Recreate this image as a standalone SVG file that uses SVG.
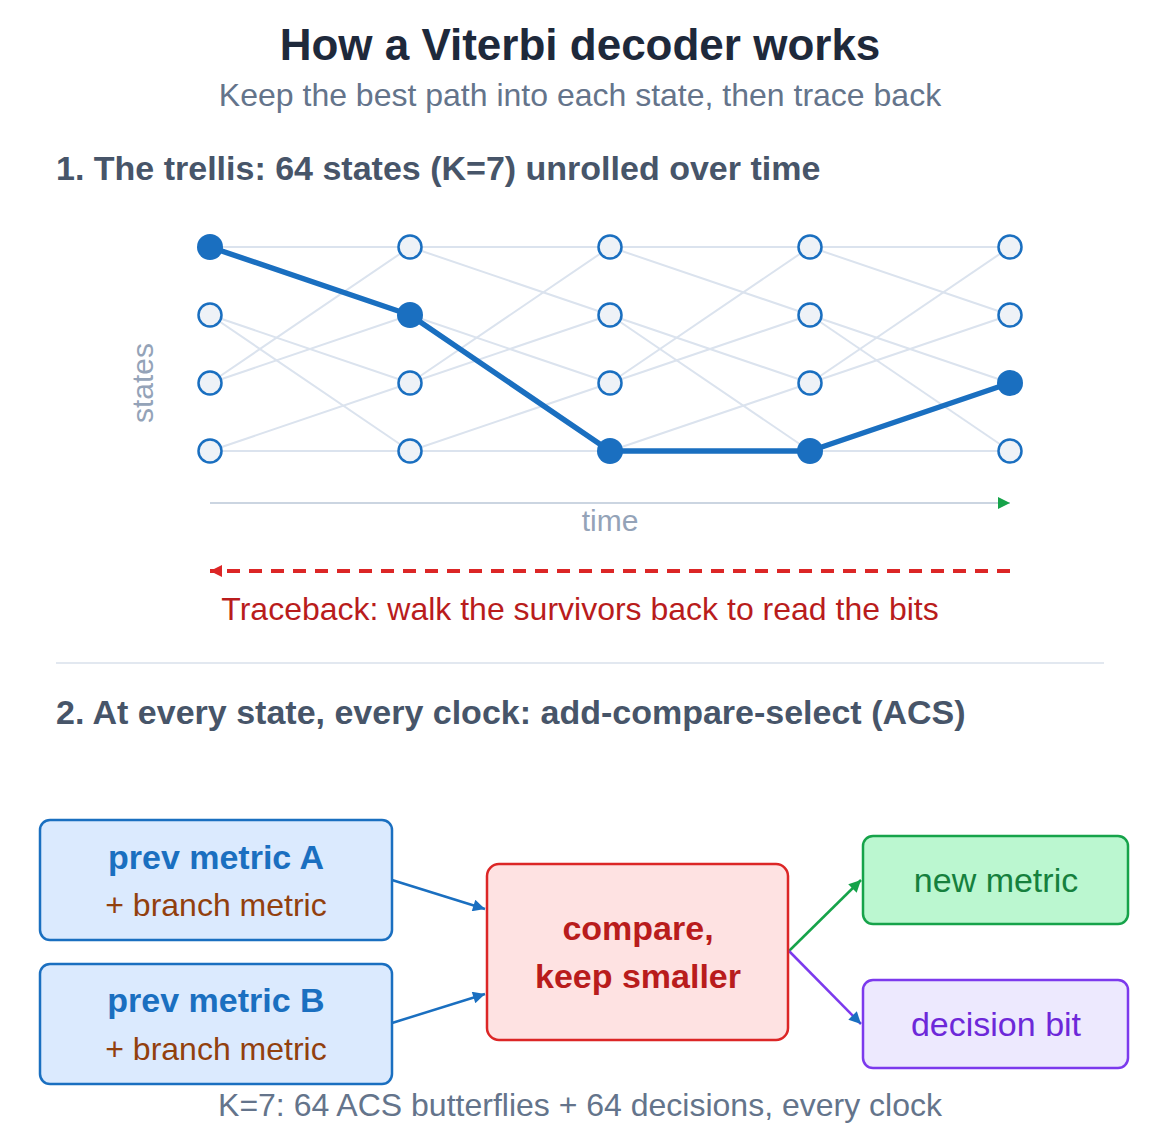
<svg xmlns="http://www.w3.org/2000/svg" width="1160" height="1148" viewBox="0 0 1160 1148">
<style>
text{font-family:"Liberation Sans",Arial,sans-serif}
.title{font-size:44px;font-weight:bold;fill:#1e293b;text-anchor:middle}
.sub{font-size:32px;fill:#64748b;text-anchor:middle}
.head{font-size:34px;font-weight:bold;fill:#475569}
.axis{font-size:30px;fill:#94a3b8;text-anchor:middle}
.edge{stroke:#dbe3ee;stroke-width:2;fill:none}
.st{fill:#eef2f7;stroke:#1a6fc0;stroke-width:2.5}
.stOn{fill:#1a6fc0}
.best{stroke:#1a6fc0;stroke-width:5.5;fill:none;stroke-linejoin:round;stroke-linecap:round}
.box{stroke-width:2.5}
.bt{font-size:34px;font-weight:bold;text-anchor:middle}
.rt{font-size:32px;text-anchor:middle}
.rt34{font-size:34px;text-anchor:middle}
.conn{stroke-width:2.5;fill:none}
</style>
<defs>
<marker id="mGreen" viewBox="0 0 10 10" refX="10" refY="5" markerWidth="14" markerHeight="12" markerUnits="userSpaceOnUse" orient="auto"><path d="M0,0L10,5L0,10z" fill="#16a34a"/></marker>
<marker id="mRed" viewBox="0 0 10 10" refX="10" refY="5" markerWidth="16" markerHeight="12" markerUnits="userSpaceOnUse" orient="auto"><path d="M0,0L10,5L0,10z" fill="#dc2626"/></marker>
<marker id="mBlue" viewBox="0 0 10 10" refX="10" refY="5" markerWidth="16" markerHeight="12" markerUnits="userSpaceOnUse" orient="auto"><path d="M0,0L10,5L0,10z" fill="#1a6fc0"/></marker>
<marker id="mGreen2" viewBox="0 0 10 10" refX="10" refY="5" markerWidth="16" markerHeight="12" markerUnits="userSpaceOnUse" orient="auto"><path d="M0,0L10,5L0,10z" fill="#16a34a"/></marker>
</defs>

<text class="title" x="580" y="60">How a Viterbi decoder works</text>
<text class="sub" x="580" y="106">Keep the best path into each state, then trace back</text>
<text class="head" x="56" y="180">1. The trellis: 64 states (K=7) unrolled over time</text>

<g id="connectors">
  <g id="trellis-edges">
    <line class="edge" x1="210" y1="247" x2="410" y2="247"/>
    <line class="edge" x1="210" y1="247" x2="410" y2="315"/>
    <line class="edge" x1="210" y1="315" x2="410" y2="383"/>
    <line class="edge" x1="210" y1="315" x2="410" y2="451"/>
    <line class="edge" x1="210" y1="383" x2="410" y2="247"/>
    <line class="edge" x1="210" y1="383" x2="410" y2="315"/>
    <line class="edge" x1="210" y1="451" x2="410" y2="383"/>
    <line class="edge" x1="210" y1="451" x2="410" y2="451"/>

    <line class="edge" x1="410" y1="247" x2="610" y2="247"/>
    <line class="edge" x1="410" y1="247" x2="610" y2="315"/>
    <line class="edge" x1="410" y1="315" x2="610" y2="383"/>
    <line class="edge" x1="410" y1="315" x2="610" y2="451"/>
    <line class="edge" x1="410" y1="383" x2="610" y2="247"/>
    <line class="edge" x1="410" y1="383" x2="610" y2="315"/>
    <line class="edge" x1="410" y1="451" x2="610" y2="383"/>
    <line class="edge" x1="410" y1="451" x2="610" y2="451"/>

    <line class="edge" x1="610" y1="247" x2="810" y2="247"/>
    <line class="edge" x1="610" y1="247" x2="810" y2="315"/>
    <line class="edge" x1="610" y1="315" x2="810" y2="383"/>
    <line class="edge" x1="610" y1="315" x2="810" y2="451"/>
    <line class="edge" x1="610" y1="383" x2="810" y2="247"/>
    <line class="edge" x1="610" y1="383" x2="810" y2="315"/>
    <line class="edge" x1="610" y1="451" x2="810" y2="383"/>
    <line class="edge" x1="610" y1="451" x2="810" y2="451"/>

    <line class="edge" x1="810" y1="247" x2="1010" y2="247"/>
    <line class="edge" x1="810" y1="247" x2="1010" y2="315"/>
    <line class="edge" x1="810" y1="315" x2="1010" y2="383"/>
    <line class="edge" x1="810" y1="315" x2="1010" y2="451"/>
    <line class="edge" x1="810" y1="383" x2="1010" y2="247"/>
    <line class="edge" x1="810" y1="383" x2="1010" y2="315"/>
    <line class="edge" x1="810" y1="451" x2="1010" y2="383"/>
    <line class="edge" x1="810" y1="451" x2="1010" y2="451"/>
  </g>
  <polyline id="survivor" class="best" points="210,247 410,315 610,451 810,451 1010,383"/>
  <line id="time-axis" x1="210" y1="503" x2="1010" y2="503" stroke="#cbd5e1" stroke-width="2" marker-end="url(#mGreen)"/>
  <line id="traceback" x1="1010" y1="571" x2="210" y2="571" stroke="#dc2626" stroke-width="4" stroke-dasharray="13 9" marker-end="url(#mRed)"/>
  <line id="a-to-cmp" class="conn" stroke="#1a6fc0" x1="392" y1="880" x2="485" y2="909" marker-end="url(#mBlue)"/>
  <line id="b-to-cmp" class="conn" stroke="#1a6fc0" x1="392" y1="1023" x2="485" y2="994" marker-end="url(#mBlue)"/>
  <line id="cmp-to-new" class="conn" stroke="#16a34a" x1="789" y1="951" x2="861" y2="880" marker-end="url(#mGreen2)"/>
  <line id="cmp-to-dec" class="conn" stroke="#7c3aed" x1="789" y1="951" x2="861" y2="1024" marker-end="url(#mBlue)"/>
</g>

<g id="states">
  <circle class="stOn" cx="210" cy="247" r="13"/>
  <circle class="st" cx="210" cy="315" r="11.5"/>
  <circle class="st" cx="210" cy="383" r="11.5"/>
  <circle class="st" cx="210" cy="451" r="11.5"/>
  <circle class="st" cx="410" cy="247" r="11.5"/>
  <circle class="stOn" cx="410" cy="315" r="13"/>
  <circle class="st" cx="410" cy="383" r="11.5"/>
  <circle class="st" cx="410" cy="451" r="11.5"/>
  <circle class="st" cx="610" cy="247" r="11.5"/>
  <circle class="st" cx="610" cy="315" r="11.5"/>
  <circle class="st" cx="610" cy="383" r="11.5"/>
  <circle class="stOn" cx="610" cy="451" r="13"/>
  <circle class="st" cx="810" cy="247" r="11.5"/>
  <circle class="st" cx="810" cy="315" r="11.5"/>
  <circle class="st" cx="810" cy="383" r="11.5"/>
  <circle class="stOn" cx="810" cy="451" r="13"/>
  <circle class="st" cx="1010" cy="247" r="11.5"/>
  <circle class="st" cx="1010" cy="315" r="11.5"/>
  <circle class="stOn" cx="1010" cy="383" r="13"/>
  <circle class="st" cx="1010" cy="451" r="11.5"/>
</g>

<text class="axis" x="610" y="531">time</text>
<text class="axis" font-size="32" transform="translate(153,383) rotate(-90)">states</text>
<text x="580" y="620" font-size="32" fill="#b91c1c" text-anchor="middle">Traceback: walk the survivors back to read the bits</text>

<line x1="56" y1="663" x2="1104" y2="663" stroke="#e2e8f0" stroke-width="2"/>

<text class="head" x="56" y="724">2. At every state, every clock: add-compare-select (ACS)</text>

<g id="prevA">
  <rect class="box" x="40" y="820" width="352" height="120" rx="10" fill="#dbeafe" stroke="#1a6fc0"/>
  <text class="bt" x="216" y="869" fill="#1a6fc0">prev metric A</text>
  <text class="rt" x="216" y="916" fill="#92400e">+ branch metric</text>
</g>
<g id="prevB">
  <rect class="box" x="40" y="964" width="352" height="120" rx="10" fill="#dbeafe" stroke="#1a6fc0"/>
  <text class="bt" x="216" y="1012" fill="#1a6fc0">prev metric B</text>
  <text class="rt" x="216" y="1060" fill="#92400e">+ branch metric</text>
</g>
<g id="compare">
  <rect class="box" x="487" y="864" width="301" height="176" rx="12" fill="#fee2e2" stroke="#dc2626"/>
  <text class="bt" x="638" y="940" fill="#b91c1c">compare,</text>
  <text class="bt" x="638" y="988" fill="#b91c1c">keep smaller</text>
</g>
<g id="newMetric">
  <rect class="box" x="863" y="836" width="265" height="88" rx="10" fill="#bbf7d0" stroke="#16a34a"/>
  <text class="rt34" x="996" y="892" fill="#15803d">new metric</text>
</g>
<g id="decisionBit">
  <rect class="box" x="863" y="980" width="265" height="88" rx="10" fill="#ede9fe" stroke="#7c3aed"/>
  <text class="rt34" x="996" y="1036" fill="#6d28d9">decision bit</text>
</g>

<text class="sub" x="580" y="1116">K=7: 64 ACS butterflies + 64 decisions, every clock</text>
</svg>
